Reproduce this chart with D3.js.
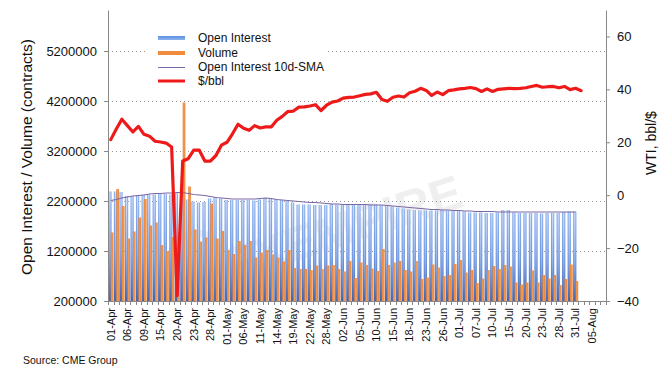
<!DOCTYPE html>
<html><head><meta charset="utf-8">
<script src="https://cdn.jsdelivr.net/npm/d3@7"></script>
<style>
body{margin:0;background:#fff}
svg{display:block}
text{font-family:"Liberation Sans",Arial,Helvetica,sans-serif;fill:#111}
</style>
</head><body><svg id="c" width="669" height="380"></svg>
<script>
const categories = [
"01-Apr","02-Apr","03-Apr","06-Apr","07-Apr","08-Apr","09-Apr","13-Apr","14-Apr","15-Apr","16-Apr","17-Apr","20-Apr","21-Apr","22-Apr","23-Apr","24-Apr","27-Apr","28-Apr","29-Apr","30-Apr",
"01-May","04-May","05-May","06-May","07-May","08-May","11-May","12-May","13-May","14-May","15-May","18-May","19-May","20-May","21-May","22-May","26-May","27-May","28-May","29-May",
"01-Jun","02-Jun","03-Jun","04-Jun","05-Jun","08-Jun","09-Jun","10-Jun","11-Jun","12-Jun","15-Jun","16-Jun","17-Jun","18-Jun","19-Jun","22-Jun","23-Jun","24-Jun","25-Jun","26-Jun","29-Jun","30-Jun",
"01-Jul","02-Jul","06-Jul","07-Jul","08-Jul","09-Jul","10-Jul","13-Jul","14-Jul","15-Jul","16-Jul","17-Jul","20-Jul","21-Jul","22-Jul","23-Jul","24-Jul","27-Jul","28-Jul","29-Jul","30-Jul","31-Jul",
"03-Aug","04-Aug","05-Aug","06-Aug","07-Aug"];
const tickLabels = ["01-Apr","06-Apr","09-Apr","15-Apr","20-Apr","23-Apr","28-Apr","01-May","06-May","11-May","14-May","19-May","22-May","28-May","02-Jun","05-Jun","10-Jun","15-Jun","18-Jun","23-Jun","26-Jun","01-Jul","07-Jul","10-Jul","15-Jul","20-Jul","23-Jul","28-Jul","31-Jul","05-Aug"];
const openInterest = [2390000,2390000,2380000,2300000,2300000,2320000,2330000,2330000,2330000,2340000,
2340000,2330000,2360000,2370000,2230000,2190000,2170000,2180000,2250000,2270000,
2250000,2220000,2220000,2220000,2220000,2220000,2210000,2230000,2250000,2250000,
2230000,2220000,2200000,2170000,2130000,2130000,2130000,2120000,2120000,2120000,
2140000,2130000,2120000,2120000,2120000,2120000,2120000,2130000,2130000,2120000,
2100000,2090000,2070000,2050000,2030000,2020000,2010000,2010000,2010000,2010000,
2020000,2010000,2000000,2000000,1990000,1970000,1970000,1970000,1960000,1960000,
1970000,2020000,2020000,1970000,1960000,1960000,1960000,1960000,1950000,1960000,
1960000,1960000,1980000,1990000,1990000];
const volume = [1570000,2440000,2100000,1450000,1590000,1870000,2240000,1710000,1770000,1320000,
1200000,1480000,1450000,4170000,2490000,1630000,1390000,1470000,2150000,1450000,
1600000,1220000,1140000,1400000,1320000,1400000,1070000,1170000,1220000,1130000,
1070000,990000,1220000,860000,840000,840000,820000,910000,840000,910000,
920000,840000,790000,1000000,660000,970000,920000,850000,800000,1240000,
920000,970000,1000000,820000,790000,1000000,640000,670000,930000,870000,
700000,720000,940000,1020000,770000,820000,560000,650000,820000,900000,
840000,920000,890000,570000,530000,570000,810000,570000,720000,650000,
720000,520000,640000,930000,600000];
const oiSMA = [2210000,2230000,2260000,2280000,2300000,2310000,2320000,2340000,2350000,2350000,
2360000,2360000,2370000,2370000,2350000,2330000,2320000,2310000,2290000,2270000,
2260000,2250000,2240000,2240000,2240000,2240000,2240000,2250000,2260000,2250000,
2230000,2220000,2210000,2200000,2190000,2180000,2170000,2170000,2160000,2150000,
2140000,2140000,2130000,2130000,2130000,2130000,2130000,2120000,2120000,2120000,
2110000,2100000,2090000,2080000,2070000,2060000,2050000,2040000,2030000,2030000,
2020000,2020000,2010000,2010000,2000000,2000000,1990000,1990000,1990000,1990000,
1980000,1980000,1980000,1980000,1980000,1980000,1980000,1980000,1980000,1980000,
1980000,1980000,1980000,1980000,1980000];
const wti = [21.0,25.0,28.7,26.3,23.9,26.0,23.0,22.3,20.4,20.1,
19.7,18.2,-38.0,12.9,13.8,17.0,17.0,12.9,12.9,15.0,
18.9,20.0,23.2,26.8,25.3,24.5,26.3,25.4,25.8,25.8,
28.3,29.8,31.6,31.8,33.3,33.4,33.7,34.2,32.0,34.0,
35.2,35.6,36.7,37.0,37.1,37.6,38.1,38.3,38.9,36.2,
35.5,37.0,37.5,37.1,38.7,39.3,40.4,39.6,37.7,39.0,
38.0,39.5,39.8,40.2,40.4,40.7,40.3,39.2,40.2,39.2,
40.0,40.2,40.4,40.3,40.4,40.6,41.1,41.5,40.8,41.0,
41.1,40.6,41.1,39.9,40.4,39.5];
const leftTicks = [200000,1200000,2200000,3200000,4200000,5200000];
const rightTicks = [-40,-20,0,20,40,60];

const svg = d3.select('#c');
const L=108, R=606, T=10, B=301;
const x = d3.scaleBand().domain(categories).range([L,R]).padding(0);
const bw = x.bandwidth();
const yL = d3.scaleLinear().domain([200000,6020000]).range([B,T]);
const yR = d3.scaleLinear().domain([-40,70]).range([B,T]);

const defs = svg.append('defs');
const gB = defs.append('linearGradient').attr('id','gBlue').attr('x1',0).attr('y1',0).attr('x2',0).attr('y2',1);
gB.append('stop').attr('offset','0%').attr('stop-color','#8db1ee');
gB.append('stop').attr('offset','55%').attr('stop-color','#6e97e0');
gB.append('stop').attr('offset','100%').attr('stop-color','#4565ae');
const gH = defs.append('linearGradient').attr('id','gHi').attr('x1',0).attr('y1',0).attr('x2',0).attr('y2',1);
gH.append('stop').attr('offset','0%').attr('stop-color','#ffffff').attr('stop-opacity',0.6);
gH.append('stop').attr('offset','100%').attr('stop-color','#ffffff').attr('stop-opacity',0.0);
const gO = defs.append('linearGradient').attr('id','gOrange').attr('x1',0).attr('y1',0).attr('x2',1).attr('y2',0);
gO.append('stop').attr('offset','0%').attr('stop-color','#e98134');
gO.append('stop').attr('offset','50%').attr('stop-color','#f39a52');
gO.append('stop').attr('offset','100%').attr('stop-color','#e98134');
const gLB = defs.append('linearGradient').attr('id','gLegB').attr('x1',0).attr('y1',0).attr('x2',0).attr('y2',1);
gLB.append('stop').attr('offset','0%').attr('stop-color','#5b8de0');
gLB.append('stop').attr('offset','100%').attr('stop-color','#8fb5f0');

// gridlines
svg.append('g').selectAll('line').data(leftTicks.slice(1)).join('line')
  .attr('x1',L).attr('x2',R)
  .attr('y1',d=>Math.round(yL(d))+0.5).attr('y2',d=>Math.round(yL(d))+0.5)
  .attr('stroke','#9a9a9a').attr('stroke-width',1).attr('stroke-dasharray','1,3');

// watermark
const wm = svg.append('g').attr('opacity',0.09);
wm.append('circle').attr('cx',196).attr('cy',258).attr('r',25).attr('fill','none').attr('stroke','#555').attr('stroke-width',7);
wm.append('text').attr('transform','translate(232,282) rotate(-18)').attr('font-size',48).attr('font-weight','bold').style('fill','#555').text('FXEMPIRE');

const dataCats = categories.slice(0, openInterest.length);
// OI bars
const gb = svg.append('g');
gb.selectAll('rect.oi').data(dataCats).join('rect').attr('class','oi')
  .attr('x',d=>x(d)+0.3).attr('width',bw*0.6)
  .attr('y',(d,i)=>yL(openInterest[i])).attr('height',(d,i)=>B-yL(openInterest[i]))
  .attr('fill','url(#gBlue)');
gb.selectAll('rect.hi').data(dataCats).join('rect').attr('class','hi')
  .attr('x',d=>x(d)+0.3+bw*0.2).attr('width',bw*0.2)
  .attr('y',(d,i)=>yL(openInterest[i])).attr('height',(d,i)=>B-yL(openInterest[i]))
  .attr('fill','url(#gHi)');
// Volume bars
gb.selectAll('rect.vol').data(dataCats).join('rect').attr('class','vol')
  .attr('x',d=>x(d)+bw*0.5).attr('width',bw*0.48)
  .attr('y',(d,i)=>yL(volume[i])).attr('height',(d,i)=>B-yL(volume[i]))
  .attr('fill','url(#gOrange)');

// SMA line
svg.append('path').datum(oiSMA)
  .attr('d',d3.line().x((d,i)=>x(categories[i])+bw/2).y(d=>yL(d)))
  .attr('fill','none').attr('stroke','#7a68a6').attr('stroke-width',1.1);

// WTI line
svg.append('path').datum(wti)
  .attr('d',d3.line().x((d,i)=>x(categories[i])+bw/2).y(d=>yR(d)))
  .attr('fill','none').attr('stroke','#ee1a1a').attr('stroke-width',3.2)
  .attr('stroke-linejoin','round').attr('stroke-linecap','round');

// axes
const axL = svg.append('g').attr('transform',`translate(${L},0)`)
  .call(d3.axisLeft(yL).tickValues(leftTicks).tickSize(4).tickSizeOuter(0).tickPadding(7).tickFormat(d3.format('d')));
axL.selectAll('text').attr('font-size',13).style('font-family','"Liberation Sans",Arial,sans-serif');
const axR = svg.append('g').attr('transform',`translate(${R},0)`)
  .call(d3.axisRight(yR).tickValues(rightTicks).tickSize(4).tickSizeOuter(0).tickPadding(7));
axR.selectAll('text').attr('font-size',13).style('font-family','"Liberation Sans",Arial,sans-serif');
const axB = svg.append('g').attr('transform',`translate(0,${B})`)
  .call(d3.axisBottom(x).tickValues(tickLabels).tickSize(0).tickSizeOuter(0));
axB.selectAll('text').attr('font-size',11).style('font-family','"Liberation Sans",Arial,sans-serif')
  .attr('y',0).attr('x',-7).attr('dy','0.35em').attr('transform','rotate(-90)').style('text-anchor','end');
// category boundary ticks
svg.append('g').selectAll('line').data(categories.concat(['__end'])).join('line')
  .attr('x1',d=>Math.round(d==='__end'?R:x(d))+0.5).attr('x2',d=>Math.round(d==='__end'?R:x(d))+0.5)
  .attr('y1',B).attr('y2',B+4).attr('stroke','#888');
[axL,axR,axB].forEach(a=>{a.select('.domain').attr('stroke','#888');a.selectAll('.tick line').attr('stroke','#888');});

// titles
svg.append('text').attr('transform','translate(27,157) rotate(-90)').attr('text-anchor','middle')
  .attr('dy','0.35em').attr('font-size',15.5).text('Open Interest / Volume (contracts)');
svg.append('text').attr('transform','translate(651,143) rotate(-90)').attr('text-anchor','middle')
  .attr('dy','0.35em').attr('font-size',14).text('WTI, bbl/$');
svg.append('text').attr('x',23).attr('y',364).attr('font-size',10.5).text('Source: CME Group');

// legend
const lg = svg.append('g');
lg.append('rect').attr('x',146).attr('y',27).attr('width',182).attr('height',62).attr('fill','#fff');
const items = [
  {name:'Open Interest', y:37.5},
  {name:'Volume', y:52.5},
  {name:'Open Interest 10d-SMA', y:67},
  {name:'$/bbl', y:81}
];
lg.append('rect').attr('x',158).attr('y',36).attr('width',27).attr('height',4).attr('fill','url(#gLegB)');
lg.append('rect').attr('x',158).attr('y',51).attr('width',27).attr('height',4).attr('fill','#f08b3e');
lg.append('line').attr('x1',158).attr('x2',185).attr('y1',67.5).attr('y2',67.5).attr('stroke','#7a68a6').attr('stroke-width',1);
lg.append('line').attr('x1',158).attr('x2',185).attr('y1',81).attr('y2',81).attr('stroke','#ee1a1a').attr('stroke-width',3);
lg.selectAll('text').data(items).join('text').attr('x',198).attr('y',d=>d.y).attr('dy','0.35em')
  .attr('font-size',12).text(d=>d.name);
</script>
</body></html>
